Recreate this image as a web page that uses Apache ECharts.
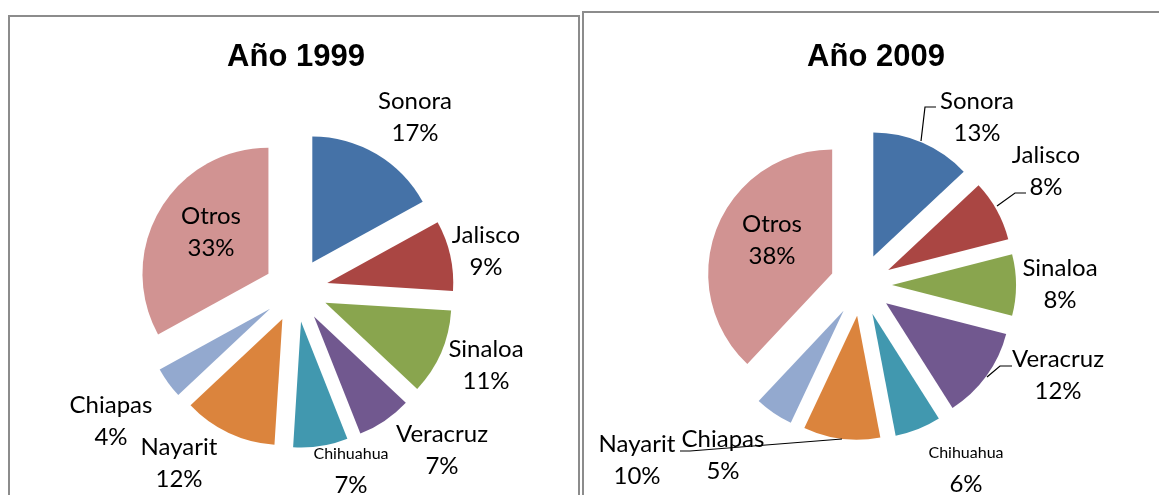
<!DOCTYPE html>
<html>
<head>
<meta charset="utf-8">
<script src="https://cdn.jsdelivr.net/npm/echarts@6/dist/echarts.min.js"></script>
<style>
  html, body { margin: 0; padding: 0; background: #fff; }
  #chart { width: 1159px; height: 495px; }
</style>
</head>
<body>
<div id="chart"></div>
<script>
// ---- data ----
const states = ['Sonora', 'Jalisco', 'Sinaloa', 'Veracruz', 'Chihuahua', 'Nayarit', 'Chiapas', 'Otros'];
const share1999 = [17, 9, 11, 7, 7, 12, 4, 33];
const share2009 = [13, 8, 8, 12, 6, 10, 5, 38];
const titles = ['Año 1999', 'Año 2009'];

// Excel 2007 palette
const sliceColors = ['#4572A7', '#AA4643', '#89A54E', '#71588F', '#4198AF', '#DB843D', '#93A9CF', '#D19392'];

// ---- layout (px) ----
const pies = [
  { center: [296, 290], radius: 126, offset: 32, titleX: 291 },
  { center: [861, 285], radius: 124, offset: 31, titleX: 871 }
];

// label block centres per pie, in slice order
const labelPos = [
  [[415, 117], [486, 251], [486, 365], [442, 450], [351, 470], [179, 463], [111, 421], [211, 232]],
  [[977, 117], [1046, 171], [1060, 284], [1058, 375], [966, 469], [637, 460], [723, 455], [772, 240]]
];

// leader lines (only the 2009 chart has them)
const leaders = [
  {},
  {
    0: [[921, 141], [925, 107], [936, 107]],
    1: [[997, 206], [1015, 193], [1026, 193]],
    3: [[987, 377], [1000, 366], [1012, 366]],
    5: [[842, 439], [690, 451], [680, 451]]
  }
];

const labelFont = 'Lato, "Open Sans", sans-serif';

// exploded slices, no labels
const sliceSeries = (values, i) => ({
  type: 'pie',
  z: 2,
  center: pies[i].center,
  radius: pies[i].radius,
  startAngle: 90,
  clockwise: true,
  selectedMode: 'multiple',
  selectedOffset: pies[i].offset,
  animation: false,
  silent: true,
  label: { show: false },
  labelLine: { show: false },
  data: states.map((name, k) => ({
    name,
    value: values[k],
    selected: true,
    itemStyle: { color: sliceColors[k] }
  }))
});

// invisible twin pie that only carries the data labels, drawn on top
const labelSeries = (values, i) => ({
  type: 'pie',
  z: 6,
  center: pies[i].center,
  radius: pies[i].radius,
  startAngle: 90,
  clockwise: true,
  animation: false,
  silent: true,
  itemStyle: { color: 'rgba(0,0,0,0)' },
  label: {
    show: true,
    position: 'outside',
    color: '#000',
    fontFamily: labelFont,
    formatter: p => {
      const nameStyle = p.name === 'Chihuahua' ? 's' : 'n';
      return `{${nameStyle}|${p.name}}\n{n|${p.value}%}`;
    },
    rich: {
      n: { fontSize: 24, lineHeight: 32, fontFamily: labelFont, color: '#000' },
      s: { fontSize: 16, lineHeight: 30, fontFamily: labelFont, color: '#000' }
    }
  },
  labelLine: {
    show: true,
    lineStyle: { color: '#000', width: 1.2 }
  },
  labelLayout: params => {
    const pos = labelPos[i][params.dataIndex];
    const out = { x: pos[0], y: pos[1], align: 'center', verticalAlign: 'middle' };
    const pts = leaders[i][params.dataIndex];
    if (pts) out.labelLinePoints = pts;
    return out;
  },
  data: states.map((name, k) => ({
    name,
    value: values[k],
    labelLine: { show: !!leaders[i][k] }
  }))
});

const chart = echarts.init(document.getElementById('chart'));

chart.setOption({
  backgroundColor: '#fff',
  title: titles.map((t, i) => ({
    text: t,
    left: pies[i].titleX,
    top: 37,
    textAlign: 'center',
    textStyle: {
      fontFamily: '"Liberation Sans", Arial, sans-serif',
      fontWeight: 'bold',
      fontSize: 31,
      color: '#000'
    }
  })),
  graphic: [
    {
      type: 'rect',
      shape: { x: 9, y: 16, width: 570, height: 500 },
      style: { fill: 'none', stroke: '#8c8c8c', lineWidth: 2 },
      z: -1
    },
    {
      type: 'rect',
      shape: { x: 583, y: 12, width: 600, height: 500 },
      style: { fill: 'none', stroke: '#8c8c8c', lineWidth: 2 },
      z: -1
    }
  ],
  series: [
    sliceSeries(share1999, 0), labelSeries(share1999, 0),
    sliceSeries(share2009, 1), labelSeries(share2009, 1)
  ]
});
</script>
</body>
</html>
